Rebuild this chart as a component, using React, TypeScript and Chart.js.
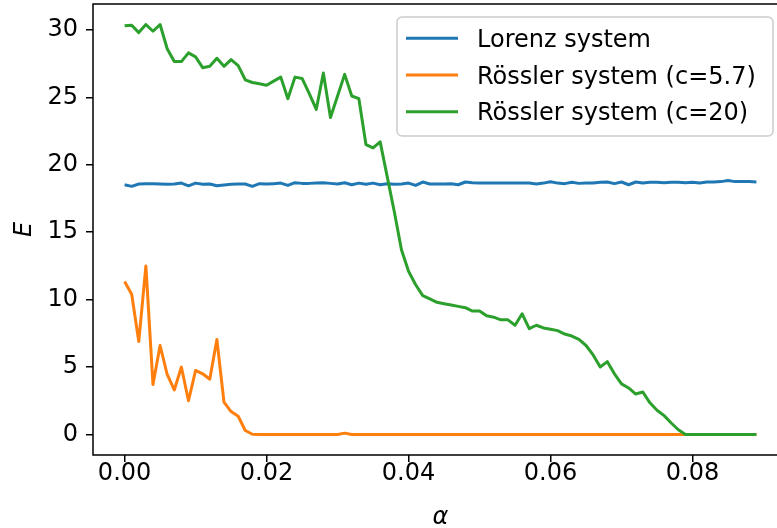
import React, { useEffect, useRef } from 'react';
import { Chart, registerables } from 'chart.js';

Chart.register(...registerables);

const alpha = [
  0.000, 0.001, 0.002, 0.003, 0.004, 0.005, 0.006, 0.007, 0.008, 0.009,
  0.010, 0.011, 0.012, 0.013, 0.014, 0.015, 0.016, 0.017, 0.018, 0.019,
  0.020, 0.021, 0.022, 0.023, 0.024, 0.025, 0.026, 0.027, 0.028, 0.029,
  0.030, 0.031, 0.032, 0.033, 0.034, 0.035, 0.036, 0.037, 0.038, 0.039,
  0.040, 0.041, 0.042, 0.043, 0.044, 0.045, 0.046, 0.047, 0.048, 0.049,
  0.050, 0.051, 0.052, 0.053, 0.054, 0.055, 0.056, 0.057, 0.058, 0.059,
  0.060, 0.061, 0.062, 0.063, 0.064, 0.065, 0.066, 0.067, 0.068, 0.069,
  0.070, 0.071, 0.072, 0.073, 0.074, 0.075, 0.076, 0.077, 0.078, 0.079,
  0.080, 0.081, 0.082, 0.083, 0.084, 0.085, 0.086, 0.087, 0.088, 0.089,
];

const lorenz = [
  18.52, 18.40, 18.57, 18.60, 18.60, 18.57, 18.55, 18.57, 18.64, 18.44,
  18.64, 18.55, 18.57, 18.44, 18.50, 18.55, 18.57, 18.57, 18.40, 18.60,
  18.57, 18.60, 18.64, 18.47, 18.67, 18.62, 18.62, 18.64, 18.67, 18.62,
  18.57, 18.67, 18.52, 18.64, 18.55, 18.64, 18.52, 18.60, 18.55, 18.57,
  18.64, 18.47, 18.72, 18.57, 18.57, 18.57, 18.60, 18.52, 18.72, 18.67,
  18.64, 18.64, 18.64, 18.64, 18.64, 18.64, 18.64, 18.64, 18.57, 18.64,
  18.74, 18.64, 18.60, 18.71, 18.62, 18.64, 18.64, 18.70, 18.72, 18.60,
  18.72, 18.52, 18.72, 18.64, 18.70, 18.70, 18.67, 18.70, 18.70, 18.67,
  18.70, 18.64, 18.72, 18.72, 18.75, 18.84, 18.75, 18.75, 18.75, 18.72,
];

const rossler57 = [
  11.35, 10.4, 6.9, 12.5, 3.7, 6.6, 4.45, 3.3, 5.0, 2.5,
  4.75, 4.5, 4.1, 7.05, 2.4, 1.7, 1.35, 0.3, 0.02, 0,
  0, 0, 0, 0, 0, 0, 0, 0, 0, 0,
  0, 0.1, 0, 0, 0, 0, 0, 0, 0, 0,
  0, 0, 0, 0, 0, 0, 0, 0, 0, 0,
  0, 0, 0, 0, 0, 0, 0, 0, 0, 0,
  0, 0, 0, 0, 0, 0, 0, 0, 0, 0,
  0, 0, 0, 0, 0, 0, 0, 0, 0, 0,
  0, 0, 0, 0, 0, 0, 0, 0, 0, 0,
];

const rossler20 = [
  30.3, 30.35, 29.8, 30.4, 29.9, 30.4, 28.6, 27.65, 27.65, 28.3,
  28.0, 27.2, 27.3, 27.9, 27.3, 27.8, 27.35, 26.3, 26.1, 26.0,
  25.9, 26.2, 26.5, 24.9, 26.5, 26.4, 25.3, 24.1, 26.8, 23.5,
  25.1, 26.7, 25.1, 24.9, 21.5, 21.25, 21.7, 19.1, 16.5, 13.7,
  12.1, 11.1, 10.3, 10.05, 9.8, 9.7, 9.6, 9.5, 9.4, 9.15,
  9.15, 8.8, 8.7, 8.5, 8.5, 8.1, 8.95, 7.85, 8.1, 7.9,
  7.8, 7.7, 7.45, 7.3, 7.05, 6.6, 5.9, 5.0, 5.4, 4.5,
  3.75, 3.45, 3.0, 3.15, 2.35, 1.8, 1.4, 0.85, 0.35, 0,
  0, 0, 0, 0, 0, 0, 0, 0, 0, 0,
];

const seriesLabels = ['Lorenz system', 'Rössler system (c=5.7)', 'Rössler system (c=20)'];
const seriesColors = ['#1f77b4', '#ff7f0e', '#2ca02c'];
const xTicks = [0, 0.02, 0.04, 0.06, 0.08];
const yTicks = [0, 5, 10, 15, 20, 25, 30];

const FAMILY = "'DejaVu Sans', sans-serif";

const framePlugin = {
  id: 'frame',
  afterDatasetsDraw(chart: any) {
    const { ctx, chartArea } = chart;
    ctx.save();
    ctx.strokeStyle = '#000';
    ctx.lineWidth = 1.5;
    ctx.strokeRect(chartArea.left, chartArea.top, chartArea.right - chartArea.left, chartArea.bottom - chartArea.top);
    ctx.restore();
  },
};

const legendPlugin = {
  id: 'mplLegend',
  afterDraw(chart: any) {
    const { ctx, chartArea } = chart;
    const ds = chart.data.datasets;
    const right = chartArea.right - 15;
    const left = 397;
    const top = chartArea.top + 13;
    const rowH = 36.7;
    const height = 119;
    ctx.save();
    ctx.beginPath();
    ctx.roundRect(left, top, right - left, height, 5);
    ctx.fillStyle = 'rgba(255,255,255,0.8)';
    ctx.fill();
    ctx.strokeStyle = '#cccccc';
    ctx.lineWidth = 1.5;
    ctx.stroke();
    ctx.font = `24px ${FAMILY}`;
    ctx.textBaseline = 'alphabetic';
    ctx.textAlign = 'left';
    ds.forEach((d: any, i: number) => {
      const cy = top + 21.3 + i * rowH;
      ctx.beginPath();
      ctx.moveTo(left + 9, cy);
      ctx.lineTo(left + 61, cy);
      ctx.strokeStyle = d.borderColor;
      ctx.lineWidth = 3;
      ctx.stroke();
      ctx.fillStyle = '#000';
      ctx.fillText(d.label, left + 80, cy + 8.7);
    });
    ctx.restore();
  },
};

export default function App() {
  const ref = useRef<HTMLCanvasElement>(null);

  useEffect(() => {
    if (!ref.current) return;
    const series = [lorenz, rossler57, rossler20];
    const chart = new Chart(ref.current, {
      type: 'line',
      data: {
        datasets: series.map((s, i) => ({
          label: seriesLabels[i],
          data: s.map((v, j) => ({ x: alpha[j], y: v })),
          borderColor: seriesColors[i],
          backgroundColor: seriesColors[i],
          borderWidth: 3,
          pointRadius: 0,
          tension: 0,
          fill: false,
          borderJoinStyle: 'round',
          borderCapStyle: 'butt',
          order: 2 - i,
        })),
      },
      options: {
        responsive: false,
        animation: false,
        layout: { padding: { top: 4, right: 12, left: 0, bottom: 0 } },
        plugins: { legend: { display: false }, tooltip: { enabled: false } },
        scales: {
          x: {
            type: 'linear',
            min: -0.00445,
            max: 0.09345,
            afterBuildTicks: (s: any) => { s.ticks = xTicks.map((v) => ({ value: v })); },
            afterFit: (s: any) => { s.height = 73; s.paddingLeft = 0; s.paddingRight = 0; s.paddingTop = 0; s.paddingBottom = 0; },
            grid: { drawOnChartArea: false, drawTicks: true, tickLength: 7, color: '#000', lineWidth: 1.5 },
            border: { display: false },
            ticks: {
              font: { family: FAMILY, size: 24, lineHeight: 1 },
              color: '#000',
              padding: 0,
              maxRotation: 0,
              autoSkip: false,
              callback: (v: any) => Number(v).toFixed(2),
            },
            title: {
              display: true,
              text: 'α',
              font: { family: FAMILY, size: 24, style: 'italic' },
              color: '#000',
              padding: { top: 0, bottom: -4 },
            },
          },
          y: {
            type: 'linear',
            min: -1.52,
            max: 31.92,
            afterBuildTicks: (s: any) => { s.ticks = yTicks.map((v) => ({ value: v })); },
            afterFit: (s: any) => { s.width = 93; s.paddingLeft = 0; s.paddingRight = 0; s.paddingTop = 0; s.paddingBottom = 0; },
            grid: { drawOnChartArea: false, drawTicks: true, tickLength: 7, color: '#000', lineWidth: 1.5 },
            border: { display: false },
            ticks: {
              font: { family: FAMILY, size: 24 },
              color: '#000',
              padding: 8,
              autoSkip: false,
              callback: (v: any) => String(v),
            },
            title: {
              display: true,
              text: 'E',
              font: { family: FAMILY, size: 24, style: 'italic' },
              color: '#000',
              padding: { top: 10, bottom: 0 },
            },
          },
        },
      },
      plugins: [framePlugin, legendPlugin],
    } as any);
    return () => chart.destroy();
  }, []);

  return (
    <div style={{ position: 'absolute', left: 0, top: 0, width: 777, height: 528, overflow: 'hidden', background: '#fff' }}>
      <canvas ref={ref} width={800} height={528} style={{ display: 'block' }} />
    </div>
  );
}
